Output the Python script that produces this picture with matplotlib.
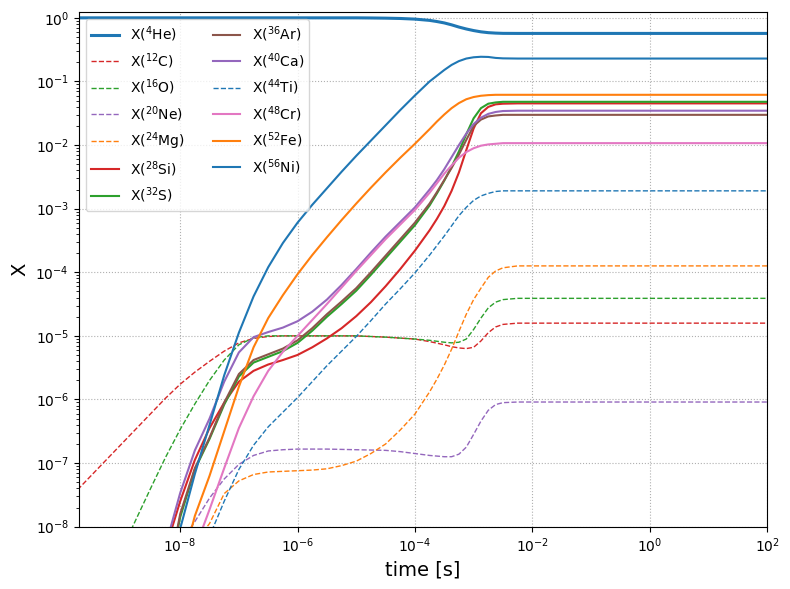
import numpy as np
import matplotlib
matplotlib.use("Agg")
import matplotlib.pyplot as plt

# log10(time [s]) grid the curves were read on
log_t = [-9.75, -9.5, -9.25, -9.0, -8.75, -8.5, -8.25, -8.0, -7.75, -7.5,
         -7.25, -7.0, -6.75, -6.5, -6.25, -6.0, -5.75, -5.5, -5.25, -5.0,
         -4.75, -4.5, -4.25, -4.0, -3.75, -3.625, -3.5, -3.375, -3.25,
         -3.125, -3.0, -2.875, -2.75, -2.625, -2.5, -2.25, -2.0, 0.0, 2.0]

# log10 of the mass fractions
he4 = [0.0, 0.0, 0.0, 0.0, 0.0, 0.0, 0.0, 0.0, 0.0, 0.0,
       0.0, 0.0, 0.0, 0.0, 0.0, 0.0, 0.0, 0.0, 0.0, 0.0,
       -0.002, -0.005, -0.01, -0.02, -0.04, -0.058, -0.08, -0.11, -0.145,
       -0.175, -0.2, -0.22, -0.233, -0.24, -0.244, -0.245, -0.245, -0.245,
       -0.245]
c12 = [-7.42, -7.18, -6.94, -6.7, -6.46, -6.22, -5.98, -5.76, -5.57, -5.4,
       -5.24, -5.11, -5.04, -5.01, -5.0, -5.0, -5.0, -5.0, -5.0, -5.0,
       -5.01, -5.02, -5.035, -5.05, -5.09, -5.115, -5.14, -5.17, -5.19,
       -5.2, -5.18, -5.08, -4.95, -4.86, -4.82, -4.8, -4.8, -4.8, -4.8]
o16 = [-9.84, -9.35, -8.86, -8.37, -7.88, -7.39, -6.91, -6.47, -6.07, -5.7,
       -5.38, -5.14, -5.03, -5.0, -5.0, -5.0, -5.0, -5.0, -5.0, -5.0,
       -5.01, -5.02, -5.035, -5.05, -5.07, -5.085, -5.1, -5.11, -5.1,
       -5.05, -4.9, -4.72, -4.56, -4.47, -4.43, -4.41, -4.41, -4.41, -4.41]
ne20 = [-11.0, -10.6, -10.2, -9.8, -9.4, -9.0, -8.6, -8.25, -7.92, -7.55,
        -7.25, -7.02, -6.88, -6.81, -6.79, -6.78, -6.78, -6.78, -6.785,
        -6.79, -6.795, -6.8, -6.82, -6.85, -6.88, -6.89, -6.9, -6.9, -6.86,
        -6.75, -6.55, -6.34, -6.17, -6.08, -6.05, -6.04, -6.04, -6.04, -6.04]
mg24 = [-12.0, -11.6, -11.2, -10.7, -10.2, -9.7, -9.2, -8.7, -8.25, -7.95,
        -7.48, -7.28, -7.18, -7.14, -7.13, -7.12, -7.11, -7.09, -7.04, -6.97,
        -6.85, -6.7, -6.48, -6.23, -5.88, -5.68, -5.46, -5.21, -4.93,
        -4.66, -4.43, -4.25, -4.08, -3.98, -3.93, -3.9, -3.9, -3.9, -3.9]
si28 = [-15.0, -14.2, -13.3, -12.3, -11.2, -10.0, -8.35, -7.6, -6.95, -6.45,
        -6.05, -5.72, -5.55, -5.45, -5.38, -5.3, -5.18, -5.04, -4.88, -4.69,
        -4.47, -4.22, -3.95, -3.66, -3.34, -3.16, -2.96, -2.72, -2.43,
        -2.08, -1.74, -1.5, -1.4, -1.36, -1.35, -1.345, -1.345, -1.345,
        -1.345]
s32 = [-15.5, -14.6, -13.7, -12.7, -11.6, -10.4, -9.0, -7.85, -7.1, -6.62,
       -6.08, -5.64, -5.42, -5.33, -5.24, -5.11, -4.92, -4.7, -4.5, -4.29,
       -4.04, -3.78, -3.52, -3.26, -2.95, -2.76, -2.56, -2.34, -2.1,
       -1.83, -1.58, -1.42, -1.35, -1.33, -1.32, -1.32, -1.32, -1.32, -1.32]
ar36 = [-15.5, -14.6, -13.7, -12.7, -11.6, -10.4, -9.0, -7.8, -7.08, -6.6,
        -6.05, -5.6, -5.38, -5.29, -5.2, -5.07, -4.88, -4.66, -4.46, -4.25,
        -4.0, -3.74, -3.48, -3.22, -2.92, -2.74, -2.55, -2.36, -2.15,
        -1.92, -1.7, -1.6, -1.55, -1.535, -1.525, -1.525, -1.525, -1.525,
        -1.525]
ca40 = [-15.0, -14.2, -13.3, -12.3, -11.2, -9.1, -8.3, -7.47, -6.8, -6.3,
        -5.72, -5.26, -5.02, -4.94, -4.87, -4.77, -4.62, -4.43, -4.2, -3.95,
        -3.69, -3.44, -3.21, -2.98, -2.7, -2.55, -2.38, -2.19, -2.0,
        -1.82, -1.67, -1.57, -1.51, -1.48, -1.465, -1.46, -1.46, -1.46, -1.46]
ti44 = [-13.0, -12.5, -12.0, -11.4, -10.8, -10.2, -9.6, -9.05, -8.6, -8.15,
        -7.6, -7.1, -6.72, -6.43, -6.2, -5.97, -5.72, -5.47, -5.24, -5.01,
        -4.76, -4.5, -4.26, -4.01, -3.73, -3.58, -3.43, -3.27, -3.11,
        -2.98, -2.87, -2.8, -2.76, -2.73, -2.72, -2.72, -2.72, -2.72, -2.72]
cr48 = [-16.0, -15.2, -14.4, -13.5, -12.5, -11.5, -10.4, -9.3, -8.35, -7.73,
        -7.08, -6.45, -5.95, -5.55, -5.25, -5.0, -4.75, -4.5, -4.24, -3.98,
        -3.73, -3.48, -3.25, -3.02, -2.75, -2.6, -2.45, -2.32, -2.2,
        -2.11, -2.05, -2.01, -1.99, -1.98, -1.97, -1.97, -1.97, -1.97, -1.97]
fe52 = [-16.0, -15.3, -14.0, -13.0, -12.0, -11.0, -9.9, -8.7, -7.83, -7.2,
        -6.5, -5.8, -5.18, -4.72, -4.36, -4.03, -3.73, -3.45, -3.18, -2.92,
        -2.67, -2.43, -2.2, -1.98, -1.75, -1.63, -1.52, -1.42, -1.34,
        -1.28, -1.245, -1.225, -1.215, -1.21, -1.21, -1.21, -1.21, -1.21,
        -1.21]
ni56 = [-16.0, -15.0, -14.0, -12.8, -11.7, -10.6, -9.3, -8.03, -7.17, -6.4,
        -5.62, -4.95, -4.38, -3.92, -3.54, -3.22, -2.94, -2.68, -2.42, -2.17,
        -1.93, -1.69, -1.45, -1.22, -1.0, -0.91, -0.82, -0.74, -0.68,
        -0.64, -0.62, -0.612, -0.615, -0.63, -0.637, -0.64, -0.64, -0.64,
        -0.64]

labels = ["4He", "12C", "16O", "20Ne", "24Mg", "28Si", "32S",
          "36Ar", "40Ca", "44Ti", "48Cr", "52Fe", "56Ni"]


def nuc_label(name):
    a = "".join(c for c in name if c.isdigit())
    el = "".join(c for c in name if c.isalpha())
    return r"X($^{%s}$%s)" % (a, el)


def plot_abundances():
    series = [he4, c12, o16, ne20, mg24, si28, s32,
              ar36, ca40, ti44, cr48, fe52, ni56]
    colors = ["C0", "C3", "C2", "C4", "C1", "C3", "C2",
              "C5", "C4", "C0", "C6", "C1", "C0"]
    styles = ["-", "--", "--", "--", "--", "-", "-",
              "-", "-", "--", "-", "-", "-"]

    t = 10.0 ** np.array(log_t)

    fig = plt.figure(figsize=(7.9, 5.89), dpi=100)
    ax = fig.add_axes([0.0996, 0.1058, 0.8713, 0.874])

    for i in range(len(series)):
        if i == 0:
            lw = 2.2
        elif styles[i] == "--":
            lw = 1.0
        else:
            lw = 1.5
        ax.plot(t, 10.0 ** np.array(series[i]), color=colors[i],
                ls=styles[i], lw=lw, label=nuc_label(labels[i]))

    ax.set_xscale("log")
    ax.set_yscale("log")
    ax.set_xlim(10 ** -9.73, 1e2)
    ax.set_ylim(1e-8, 1.24)
    ax.set_xticks([1e-8, 1e-6, 1e-4, 1e-2, 1e0, 1e2])
    ax.set_yticks([10.0 ** k for k in range(-8, 1)])
    ax.grid(ls=":")
    ax.set_xlabel("time [s]", fontsize=14)
    ax.set_ylabel("X", fontsize=14)
    ax.legend(loc="upper left", ncol=2)

    fig.savefig("out.png", dpi=100)


if __name__ == "__main__":
    plot_abundances()
